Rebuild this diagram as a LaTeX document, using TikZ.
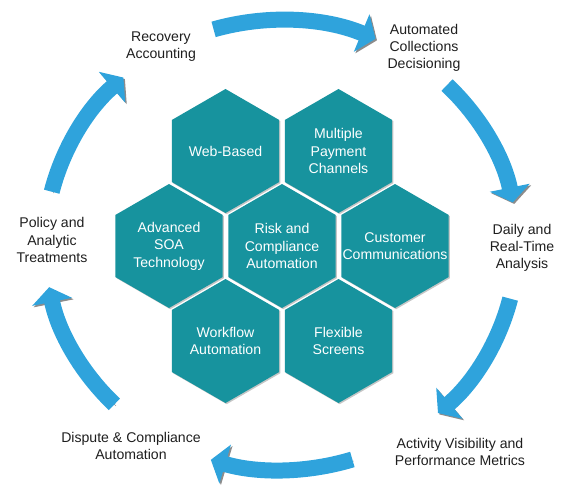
\documentclass[tikz,border=0pt]{standalone}
\usepackage{fontspec}
\setmainfont{Liberation Sans}
\usetikzlibrary{shapes.geometric, arrows.meta, calc, shadows}
\definecolor{hexteal}{HTML}{17939E}
\definecolor{cycblue}{HTML}{2FA3DC}
\definecolor{inkgray}{HTML}{1E1E1E}

\begin{document}
\begin{tikzpicture}[
    x=1pt, y=1pt,
    hex/.style={regular polygon, regular polygon sides=6, shape border rotate=30, minimum size=124pt, inner sep=0pt, fill=hexteal, draw=none, drop shadow={shadow xshift=1.2pt, shadow yshift=-1.2pt, opacity=0.45}},
    hextxt/.style={text=white, align=center, font=\fontsize{14.1}{17.4}\selectfont},
    stage/.style={text=inkgray, align=center, font=\fontsize{14.1}{17.2}\selectfont},
    arr/.style={-{Triangle[width=40pt, length=15pt]}, line width=16pt, draw=cycblue, x radius=236pt, y radius=225pt,
        preaction={draw=black!45, transform canvas={shift={(1.5pt,-1.5pt)}}}}
]
\useasboundingbox (0,0) rectangle (573,-500);
\coordinate (c) at (281,-245);

% honeycomb of features
\node[hex] (web) at (225.5,-151) {};
\node[hex] (pay) at (338.5,-151) {};
\node[hex] (soa) at (169,-246) {};
\node[hex] (risk) at (282,-246) {};
\node[hex] (cust) at (395,-246) {};
\node[hex] (wflow) at (225.5,-341) {};
\node[hex] (flex) at (338.5,-341) {};

\node[hextxt] (web-t) at (web) {Web-Based};
\node[hextxt] (pay-t) at (pay) {Multiple\\Payment\\Channels};
\node[hextxt] (soa-t) at (soa) {Advanced\\SOA\\Technology};
\node[hextxt] (risk-t) at (risk) {Risk and\\Compliance\\Automation};
\node[hextxt] (cust-t) at (cust) {Customer\\Communications};
\node[hextxt] (wflow-t) at (wflow) {Workflow\\Automation};
\node[hextxt] (flex-t) at (flex) {Flexible\\Screens};

% stages round the cycle
\node[stage] (recov) at (161,-46.5) {Recovery\\Accounting};
\node[stage] (auto) at (424,-48) {Automated\\Collections\\Decisioning};
\node[stage] (daily) at (522,-248) {Daily and\\Real-Time\\Analysis};
\node[stage] (activ) at (460,-452) {Activity Visibility and\\Performance Metrics};
\node[stage] (disp) at (131,-446) {Dispute \& Compliance\\Automation};
\node[stage] (policy) at (52,-240) {Policy and\\Analytic\\Treatments};

% cycle arrows
\draw[arr] ($(c)+(106.6:236pt and 225pt)$) arc[start angle=106.6, end angle=66.4];
\draw[arr] ($(c)+(45.3:236pt and 225pt)$) arc[start angle=45.3, end angle=10.9];
\draw[arr] ($(c)+(-13.8:236pt and 225pt)$) arc[start angle=-13.8, end angle=-48.3];
\draw[arr] ($(c)+(-72.4:236pt and 225pt)$) arc[start angle=-72.4, end angle=-107.3];
\draw[arr] ($(c)+(-134.9:236pt and 225pt)$) arc[start angle=-134.9, end angle=-169.2];
\draw[arr] ($(c)+(166.3:236pt and 225pt)$) arc[start angle=166.3, end angle=131.9];
\end{tikzpicture}
\end{document}
